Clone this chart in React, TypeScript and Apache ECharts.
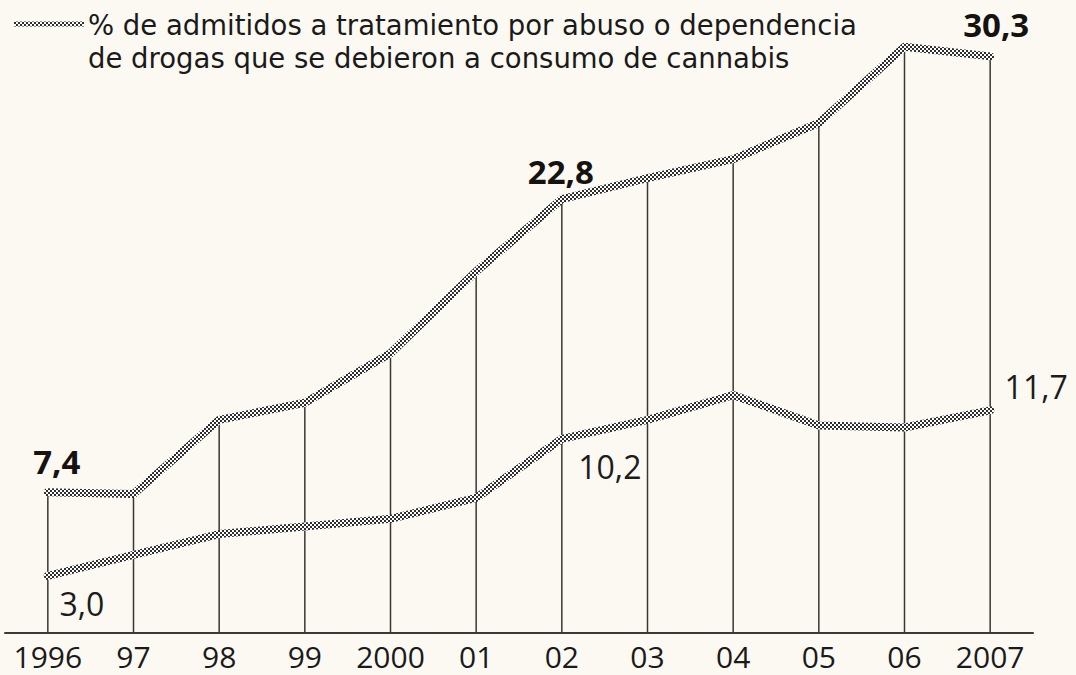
import React, { useEffect, useRef } from "react";
import * as echarts from "echarts";

const years = ["1996", "97", "98", "99", "2000", "01", "02", "03", "04", "05", "06", "2007"];
const cannabisShare = [7.4, 7.3, 11.2, 12.1, 14.7, 19.0, 22.8, 23.9, 24.9, 26.8, 30.8, 30.3];
const lowerSeries = [3.0, 4.1, 5.2, 5.6, 6.0, 7.1, 10.2, 11.2, 12.5, 10.9, 10.8, 11.7];
const upperLabelIdx = [0, 6, 11];
const lowerLabelIdx = [0, 6, 11];
const titleLines = [
  "% de admitidos a tratamiento por abuso o dependencia",
  "de drogas que se debieron a consumo de cannabis",
];

const upperOffsets: Record<number, number[]> = { 0: [9, -31], 6: [-1, -28], 11: [6, -32] };
const lowerOffsets: Record<number, number[]> = { 0: [34, 28], 6: [48, 28], 11: [46, -24] };

const fmt = (v: number) => v.toFixed(1).replace(".", ",");
const FONT = "'Open Sans', 'Noto Sans', sans-serif";
const TITLE_FONT = "'DejaVu Sans', 'Open Sans', sans-serif";

function makePattern() {
  const c = document.createElement("canvas");
  c.width = 4;
  c.height = 4;
  const ctx = c.getContext("2d")!;
  ctx.fillStyle = "#ffffff";
  ctx.fillRect(0, 0, 4, 4);
  ctx.fillStyle = "#2e2e2e";
  ctx.fillRect(0, 0, 2, 2);
  ctx.fillRect(2, 2, 2, 2);
  return { image: c.toDataURL(), repeat: "repeat", imageWidth: 4, imageHeight: 4 } as any;
}

export default function App() {
  const ref = useRef<HTMLDivElement>(null);
  useEffect(() => {
    if (!ref.current) return;
    const chart = echarts.init(ref.current, null, { renderer: "svg" });
    const pat = makePattern();
    const labelData = (vals: number[], idx: number[], offs: Record<number, number[]>, bold: boolean) =>
      vals.map((v, i) =>
        idx.includes(i)
          ? {
              value: v,
              label: {
                show: true,
                position: "inside",
                offset: offs[i],
                formatter: fmt(v),
                fontSize: bold ? 33 : 32,
                lineHeight: 32,
                fontWeight: bold ? "bold" : "normal",
                fontFamily: FONT,
                color: bold ? "#15120f" : "#1c1c1c",
                opacity: 1,
                textBorderWidth: 0,
              },
            }
          : "-"
      );
    chart.setOption({
      animation: false,
      backgroundColor: "#fcf9f2",
      graphic: [
        {
          type: "line",
          shape: { x1: 14, y1: 24, x2: 84, y2: 24 },
          style: { stroke: pat, lineWidth: 5 },
        },
        ...titleLines.map((t, i) => ({
          type: "text",
          x: 88,
          y: 25 + i * 33,
          style: {
            text: t,
            fontSize: 27.5,
            lineHeight: 30,
            fontFamily: TITLE_FONT,
            fill: "#1a1a1a",
            verticalAlign: "middle",
          },
        })),
      ],
      grid: { left: 5, right: 43, top: 24, bottom: 42 },
      xAxis: {
        type: "category",
        data: years,
        boundaryGap: true,
        axisLine: { show: true, lineStyle: { color: "#3a3a3a", width: 2 } },
        axisTick: { show: false },
        axisLabel: { interval: 0, fontSize: 30, lineHeight: 30, fontFamily: FONT, color: "#1a1a1a", margin: 8 },
      },
      yAxis: { type: "value", min: 0, max: 32, show: false, splitLine: { show: false } },
      series: [
        {
          type: "bar",
          data: cannabisShare,
          barWidth: 1.5,
          itemStyle: { color: "#3a3633" },
          z: 1,
          silent: true,
        },
        {
          type: "line",
          data: lowerSeries,
          symbol: "none",
          lineStyle: { color: pat, width: 8, join: "round", cap: "round" },
          z: 3,
        },
        {
          type: "line",
          data: cannabisShare,
          symbol: "none",
          lineStyle: { color: pat, width: 8, join: "round", cap: "round" },
          z: 4,
        },
        {
          type: "scatter",
          data: labelData(cannabisShare, upperLabelIdx, upperOffsets, true),
          symbolSize: 1,
          itemStyle: { color: "rgba(0,0,0,0)", opacity: 1 },
          z: 5,
        },
        {
          type: "scatter",
          data: labelData(lowerSeries, lowerLabelIdx, lowerOffsets, false),
          symbolSize: 1,
          itemStyle: { color: "rgba(0,0,0,0)", opacity: 1 },
          z: 5,
        },
      ],
    });
    return () => chart.dispose();
  }, []);
  return (
    <div
      ref={ref}
      style={{ position: "fixed", left: 0, top: 0, width: 1076, height: 675 }}
    />
  );
}
